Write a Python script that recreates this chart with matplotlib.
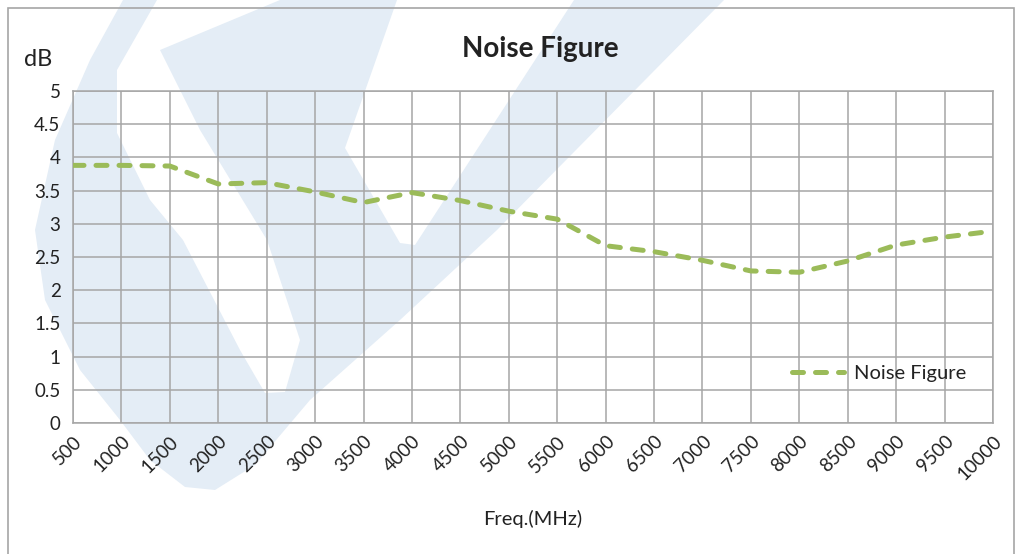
import matplotlib
matplotlib.use("Agg")
import matplotlib.pyplot as plt
from matplotlib.patches import Polygon, Rectangle

plt.rcParams['font.family'] = ['Lato', 'DejaVu Sans']

freqs = ['500', '1000', '1500', '2000', '2500', '3000', '3500', '4000', '4500', '5000',
         '5500', '6000', '6500', '7000', '7500', '8000', '8500', '9000', '9500', '10000']
nf_db = [3.88, 3.88, 3.87, 3.60, 3.62, 3.48, 3.32, 3.47, 3.35, 3.19,
         3.07, 2.67, 2.58, 2.45, 2.29, 2.27, 2.44, 2.68, 2.80, 2.89]
y_ticks = [0, 0.5, 1, 1.5, 2, 2.5, 3, 3.5, 4, 4.5, 5]

W, H = 1023, 554
fig = plt.figure(figsize=(W / 100, H / 100), dpi=100)

# faint logo watermark behind the chart (pixel coords, y from top)
logo = [(123, 0), (157, 0), (117, 70), (117, 133), (150, 200), (183, 240), (240, 350),
        (265, 393), (285, 392), (300, 340), (267, 240), (200, 130), (160, 50), (280, 0),
        (397, 0), (345, 148), (400, 243), (415, 245), (574, 0), (724, 0), (497, 230),
        (400, 320), (310, 400), (255, 465), (215, 490), (185, 487), (150, 460), (120, 420),
        (80, 370), (45, 300), (35, 230), (55, 140), (90, 60)]
fig.add_artist(Polygon([(x / W, 1 - y / H) for x, y in logo], closed=True,
                       facecolor='#e4edf6', edgecolor='none', zorder=0))

fig.add_artist(Rectangle((8 / W, -0.02), (1014 - 8) / W, 1 - 8 / H + 0.02,
                         transform=fig.transFigure, fill=False, edgecolor='#a6a6a6', lw=1.2, zorder=1))

ax = fig.add_axes([73 / W, (H - 423) / H, (993 - 73) / W, (423 - 91) / H])
ax.set_facecolor('none')
x = list(range(len(freqs)))
ax.plot(x, nf_db, color='#9bbb59', lw=3.6, dashes=(2.2, 2.4), dash_capstyle='round',
        label='Noise Figure', zorder=3)

ax.set_xlim(0, len(freqs) - 1)
ax.set_ylim(0, 5)
ax.set_xticks(x)
ax.set_xticklabels(freqs, rotation=45, ha='right', rotation_mode='anchor', fontsize=13.5, color='#222222')
ax.set_yticks(y_ticks)
ax.set_yticklabels([('%g' % v) for v in y_ticks], fontsize=13.5, color='#222222')
ax.tick_params(length=0, pad=9)
ax.tick_params(axis='x', pad=7)
ax.grid(True, color='#a6a6a6', lw=1.1)
ax.set_axisbelow(True)
for sp in ax.spines.values():
    sp.set_color('#a6a6a6')
    sp.set_linewidth(1.1)

fig.text(540 / W, 1 - 49 / H, 'Noise Figure', ha='center', va='center', fontsize=20,
         fontweight='bold', color='#222222')
fig.text(38 / W, 1 - 59 / H, 'dB', ha='center', va='center', fontsize=17, color='#222222')
fig.text(533 / W, 1 - 519 / H, 'Freq.(MHz)', ha='center', va='center', fontsize=14.5, color='#222222')

ax.legend(loc='center left', bbox_to_anchor=(782 / W, 1 - 373 / H), bbox_transform=fig.transFigure,
          frameon=False, fontsize=14.5, handlelength=2.6, handletextpad=0.5, borderpad=0,
          labelcolor='#222222')

fig.savefig('out.png', dpi=100, facecolor='white')
